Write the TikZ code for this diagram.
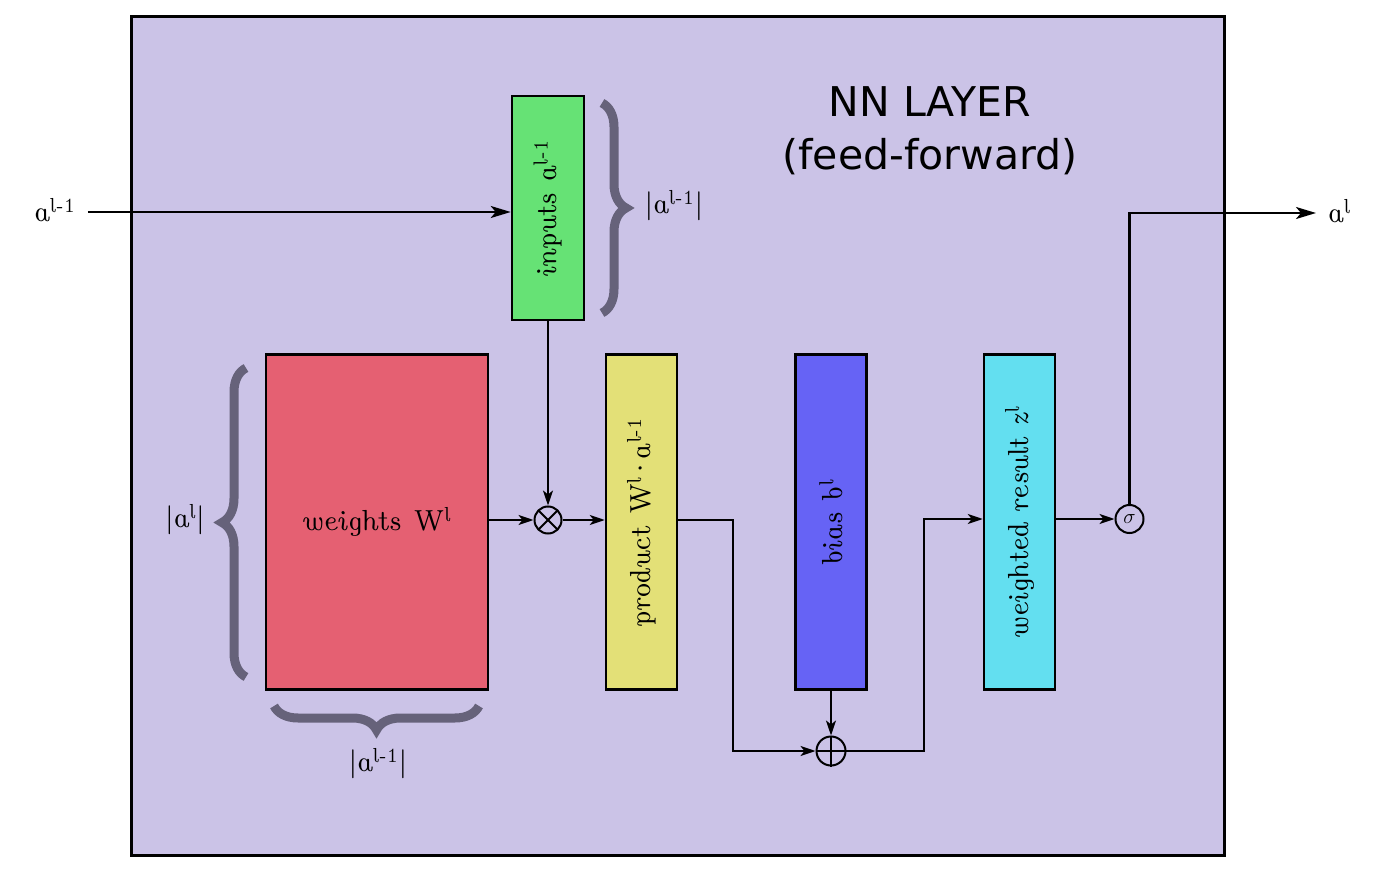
\documentclass[tikz,border=0pt]{standalone}
\usepackage{fontspec}
\usetikzlibrary{arrows.meta,decorations.pathreplacing,calc}
\newfontfamily\unsl{lmromanunsl10-regular.otf}
\newfontfamily\titlefont{DejaVu Sans}
\definecolor{bgc}{RGB}{203,195,231}
\definecolor{greenc}{RGB}{102,226,117}
\definecolor{redc}{RGB}{229,96,114}
\definecolor{yellowc}{RGB}{227,224,119}
\definecolor{bluec}{RGB}{102,99,245}
\definecolor{cyanc}{RGB}{99,223,240}
\definecolor{bracec}{RGB}{102,98,122}
\begin{document}
\begin{tikzpicture}[x=1pt,y=1pt,
  txt/.style={font=\unsl\fontsize{29}{32}\selectfont, inner sep=0pt},
  boxn/.style={draw=black, line width=2.5pt, inner sep=0pt},
  vbox/.style={boxn, minimum width=71pt, minimum height=335pt},
  opn/.style={circle, draw=black, line width=2pt, minimum size=27pt, inner sep=0pt},
  arr/.style={line width=2pt, -{Stealth[length=15pt,width=10pt,inset=4pt]}},
  bigarr/.style={line width=2.4pt, -{Stealth[length=20pt,width=12pt,inset=5pt]}},
  ln/.style={line width=2pt},
  bracestyle/.style={draw=bracec, line width=9pt, decorate, decoration={brace, amplitude=24pt}}
]
\useasboundingbox (0,0) rectangle (1377,-877);
\fill[white] (0,0) rectangle (1377,-877);
% outer layer box
\node[draw=black, line width=2.5pt, fill=bgc, minimum width=1093pt, minimum height=839pt, inner sep=0pt] (layer) at (678,-436) {};
% title
\node[font=\titlefont\fontsize{41}{50}\selectfont, anchor=base, inner sep=0pt] (title1) at (930,-117) {NN LAYER};
\node[font=\titlefont\fontsize{41}{50}\selectfont, anchor=base, inner sep=0pt] (title2) at (930,-170) {(feed-forward)};
% boxes
\node[boxn, fill=greenc, minimum width=72pt, minimum height=224pt] (inputs) at (548,-208) {};
\node[txt, rotate=90] at (inputs.center) {inputs a\textsuperscript{l-1}};
\node[boxn, fill=redc, minimum width=222pt, minimum height=335pt] (weights) at (377,-522) {};
\node[txt] at (weights.center) {weights W\textsuperscript{l}};
\node[vbox, fill=yellowc] (product) at (641.5,-522) {};
\node[txt, rotate=90] at (product.center) {product W\textsuperscript{l}\kern-3pt·\kern-3pt a\textsuperscript{l-1}};
\node[vbox, fill=bluec] (bias) at (831,-522) {};
\node[txt, rotate=90] at (bias.center) {bias b\textsuperscript{l}};
\node[vbox, fill=cyanc] (weighted) at (1019.5,-522) {};
\node[txt, rotate=90] at (weighted.center) {weighted result z\textsuperscript{l}};
% operators
\node[opn] (otimes) at (548,-520) {};
\draw[ln] ($(otimes.center)+(-9.5,9.5)$) -- ($(otimes.center)+(9.5,-9.5)$);
\draw[ln] ($(otimes.center)+(-9.5,-9.5)$) -- ($(otimes.center)+(9.5,9.5)$);
\node[opn, minimum size=29pt] (oplus) at (831,-751) {};
\draw[ln] (oplus.north) -- (oplus.south);
\draw[ln] (oplus.west) -- (oplus.east);
\node[opn, minimum size=28pt] (sigma) at (1129.5,-519) {\fontsize{22}{24}\selectfont$\sigma$};
% labels
\node[txt] (ain) at (55,-210) {a\textsuperscript{l-1}};
\node[txt, anchor=west] (aout) at (1328,-211) {a\textsuperscript{l}};
\node[txt] (lin) at (674,-206) {|a\textsuperscript{l-1}|};
\node[txt] (lrow) at (185,-520) {|a\textsuperscript{l}|};
\node[txt] (lcol) at (378,-764) {|a\textsuperscript{l-1}|};
% braces
\draw[bracestyle] (602,-103) -- (602,-313);
\draw[bracestyle] (246,-677) -- (246,-368);
\draw[bracestyle] (479,-706) -- (274,-706);
% coordinates
\coordinate (c1) at (733,0);
\coordinate (c2) at (924,0);
\coordinate (outend) at (1316,-213);
% connectors
\draw[bigarr] ($(ain.east)+(12,-2)$) -- ($(ain.east -| inputs.west)+(0,-2)$);
\draw[arr] (inputs.south) -- (otimes.north);
\draw[arr] (weights.east |- otimes.west) -- (otimes.west);
\draw[arr] (otimes.east) -- (otimes.east -| product.west);
\draw[arr] (product.east |- otimes.east) -- (otimes.east -| c1) -- (c1 |- oplus.west) -- (oplus.west);
\draw[arr] (bias.south) -- (oplus.north);
\draw[arr] (oplus.east) -- (oplus.east -| c2) -- (c2 |- sigma.west) -- (c2 |- sigma.west -| weighted.west);
\draw[arr] (weighted.east |- sigma.west) -- (sigma.west);
\draw[bigarr] (sigma.north) -- (sigma.north |- outend) -- (outend);
\end{tikzpicture}
\end{document}
